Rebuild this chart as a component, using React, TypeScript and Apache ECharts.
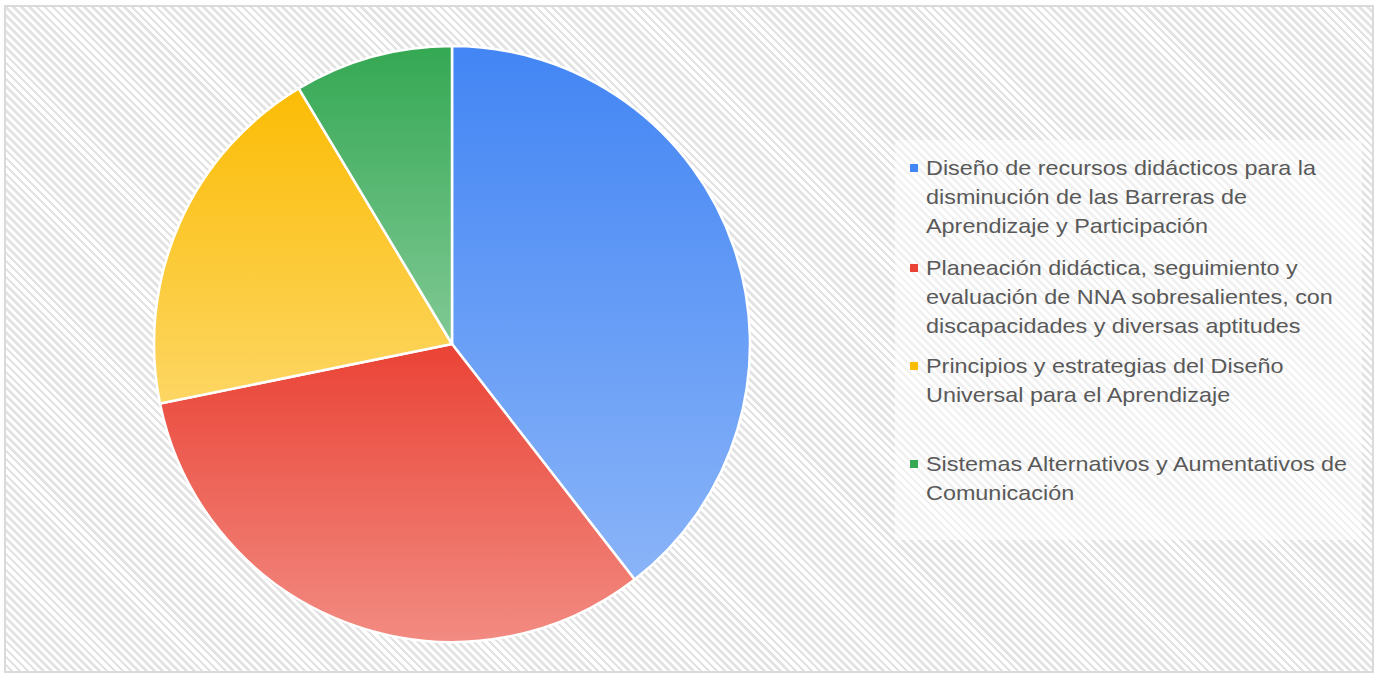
import React, { useEffect, useRef } from "react";
import * as echarts from "echarts";

const categories: string[] = [
  "Diseño de recursos didácticos para la disminución de las Barreras de Aprendizaje y Participación",
  "Planeación didáctica, seguimiento y evaluación de NNA sobresalientes, con discapacidades y diversas aptitudes",
  "Principios y estrategias del Diseño Universal para el Aprendizaje",
  "Sistemas Alternativos y Aumentativos de Comunicación",
];

const legendLines: string[][] = [
  ["Diseño de recursos didácticos para la", "disminución de las Barreras de", "Aprendizaje y Participación"],
  ["Planeación didáctica, seguimiento y", "evaluación de NNA sobresalientes, con", "discapacidades y diversas aptitudes"],
  ["Principios y estrategias del Diseño", "Universal para el Aprendizaje"],
  ["Sistemas Alternativos y Aumentativos de", "Comunicación"],
];

const values: number[] = [39.5, 32.3, 19.6, 8.6];

const topColors: string[] = ["#4285F4", "#EA4335", "#FBBC04", "#34A853"];
const bottomColors: string[] = ["#8AB4F8", "#F28B82", "#FDD663", "#81C995"];

// legend layout (first-line centre of each item)
const legendFirstLineY: number[] = [168, 268, 366, 464];

export default function App() {
  const ref = useRef<HTMLDivElement>(null);

  useEffect(() => {
    if (!ref.current) return;
    const chart = echarts.init(ref.current, null, { renderer: "svg" });

    const legendGraphics: any[] = [];
    categories.forEach((_, i) => {
      const cy = legendFirstLineY[i];
      legendGraphics.push({
        type: "rect",
        x: 910,
        y: cy - 4,
        shape: { width: 8, height: 8 },
        style: { fill: topColors[i] },
        silent: true,
      });
      legendGraphics.push({
        type: "text",
        x: 926,
        y: cy - 14.5,
        scaleX: 1.17,
        style: {
          text: legendLines[i].join("\n"),
          x: 0,
          y: 0,
          fontSize: 20,
          lineHeight: 29,
          fontFamily: "'Liberation Sans', Arial, sans-serif",
          fill: "#595959",
          verticalAlign: "top",
          align: "left",
        },
        silent: true,
      });
    });

    const option: any = {
      animation: false,
      backgroundColor: "transparent",
      graphic: [
        {
          type: "rect",
          x: 895,
          y: 140,
          shape: { width: 467, height: 400 },
          style: { fill: "rgba(255,255,255,0.5)" },
          silent: true,
          z: -1,
        },
        ...legendGraphics,
      ],
      series: [
        {
          type: "pie",
          center: [452, 344],
          radius: 298,
          startAngle: 90,
          clockwise: true,
          label: { show: false },
          labelLine: { show: false },
          emphasis: { disabled: true },
          itemStyle: { borderColor: "#ffffff", borderWidth: 2.5 },
          data: categories.map((name, i) => ({
            name,
            value: values[i],
            itemStyle: {
              color: new echarts.graphic.LinearGradient(0, 0, 0, 1, [
                { offset: 0, color: topColors[i] },
                { offset: 1, color: bottomColors[i] },
              ]),
            },
          })),
        },
      ],
    };
    chart.setOption(option);
    return () => chart.dispose();
  }, []);

  return (
    <div
      style={{
        position: "fixed",
        left: 0,
        top: 0,
        width: 1378,
        height: 679,
        background: "#ffffff",
        overflow: "hidden",
      }}
    >
      <div
        style={{
          position: "absolute",
          left: 4,
          top: 5,
          width: 1366,
          height: 664,
          border: "2px solid #dadada",
          background:
            "repeating-linear-gradient(45deg, #ffffff 0px, #ffffff 3px, #e3e3e3 3px, #e3e3e3 5.6px)",
        }}
      />
      <div ref={ref} style={{ position: "absolute", left: 0, top: 0, width: 1378, height: 679 }} />
    </div>
  );
}
